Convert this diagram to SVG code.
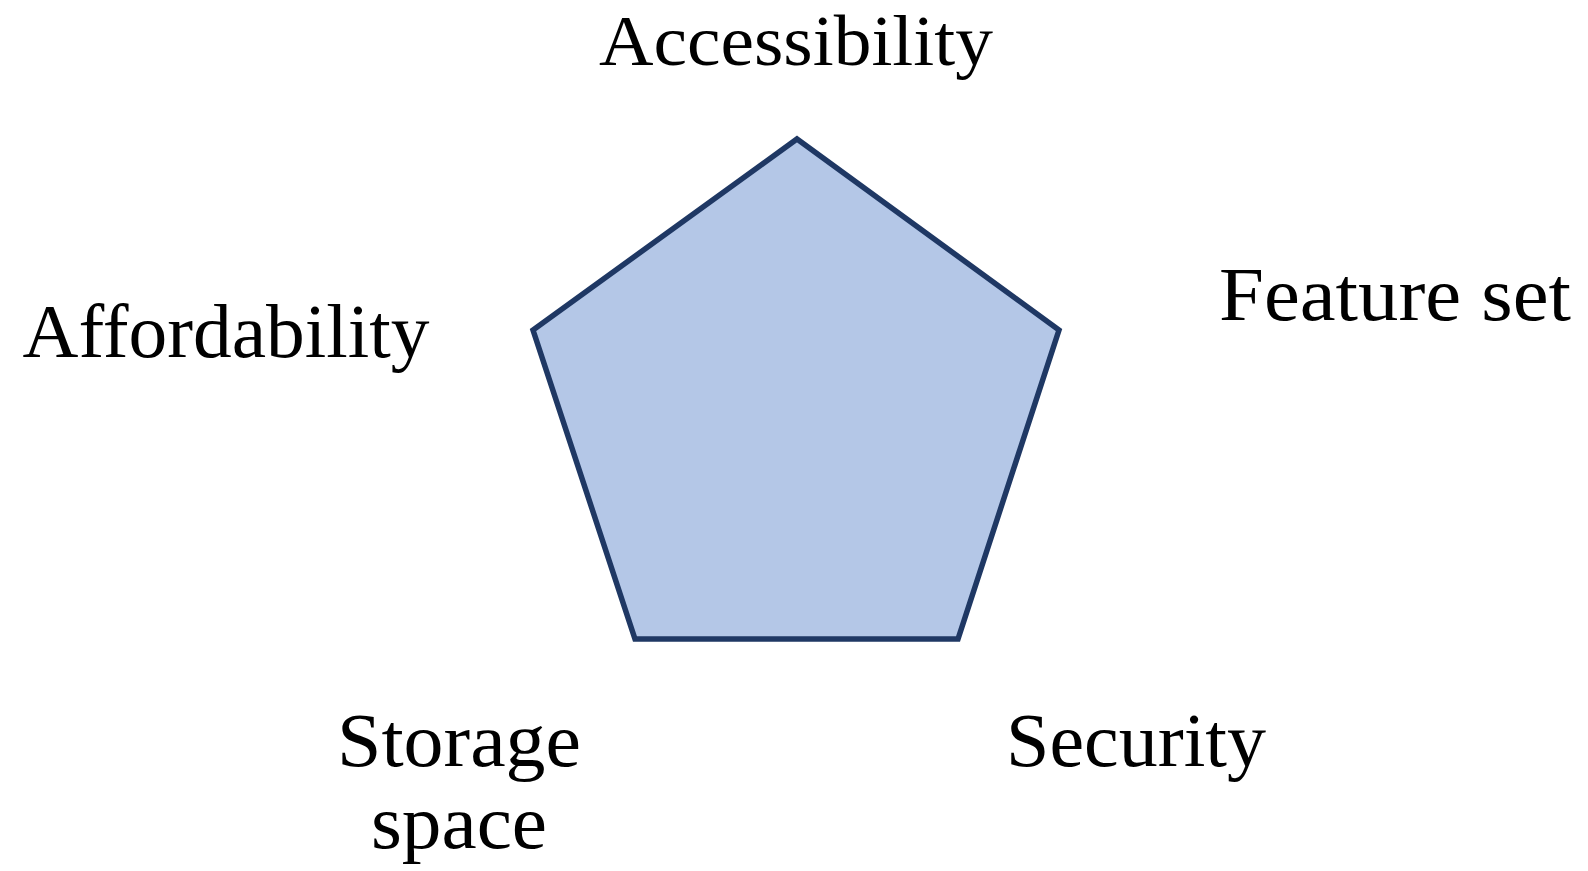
<svg xmlns="http://www.w3.org/2000/svg" width="1588" height="871" viewBox="0 0 1588 871">
  <style>
    .lbl { font-family: "Liberation Serif", "DejaVu Serif", serif; font-size: 76px; fill: #000; text-anchor: middle; }
    .top { font-size: 72px; }
    .shape { fill: #B4C7E7; stroke: #1F3864; stroke-width: 5.5; stroke-linejoin: miter; }
  </style>
  <rect width="1588" height="871" fill="#ffffff"/>
  <g id="pentagon">
    <polygon class="shape" points="797,139 1059,330 958,639 635,639 533,330"/>
  </g>
  <g id="connectors"/>
  <g id="accessibility">
    <text class="lbl top" x="796" y="65" textLength="394" lengthAdjust="spacingAndGlyphs">Accessibility</text>
  </g>
  <g id="affordability">
    <text class="lbl" x="226" y="357" textLength="407" lengthAdjust="spacingAndGlyphs">Affordability</text>
  </g>
  <g id="feature-set">
    <text class="lbl" x="1395" y="320" textLength="352" lengthAdjust="spacingAndGlyphs">Feature set</text>
  </g>
  <g id="storage-space">
    <text class="lbl" x="459" y="766" textLength="244" lengthAdjust="spacingAndGlyphs">Storage</text>
    <text class="lbl" x="459" y="848" textLength="176" lengthAdjust="spacingAndGlyphs">space</text>
  </g>
  <g id="security">
    <text class="lbl" x="1136" y="766" textLength="260" lengthAdjust="spacingAndGlyphs">Security</text>
  </g>
</svg>
